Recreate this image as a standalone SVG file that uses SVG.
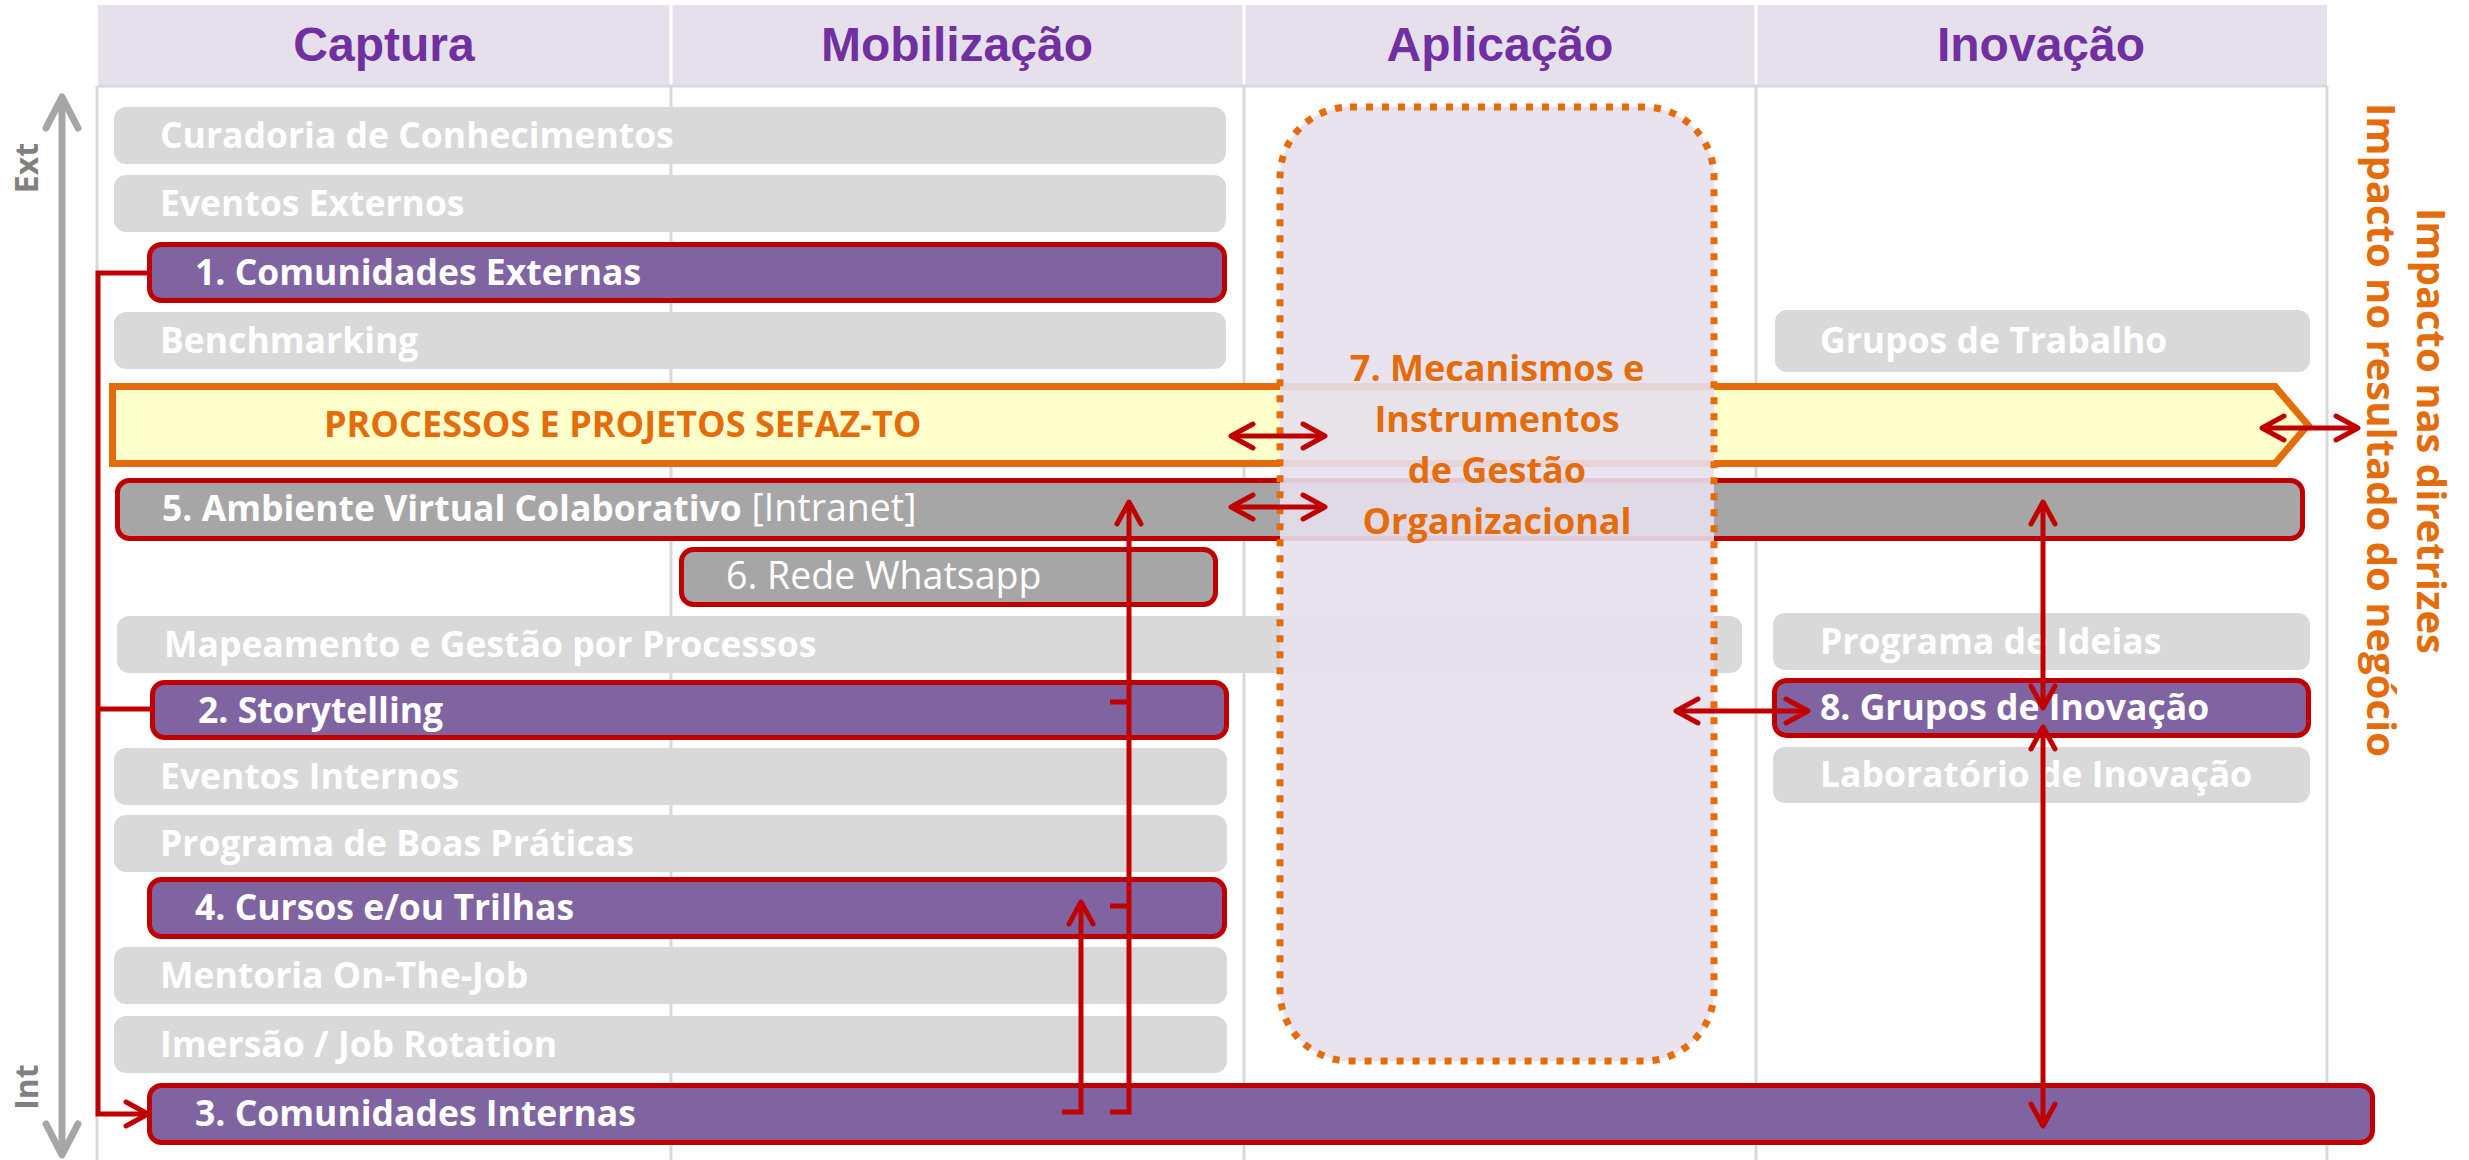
<svg xmlns="http://www.w3.org/2000/svg" width="2469" height="1160" viewBox="0 0 2469 1160">
<defs>
<style>
.hdr{font-family:"Liberation Sans",Arial,sans-serif;font-weight:bold;font-size:48px;fill:#7030A0;text-anchor:middle}
.lt{fill:#D9D9D9}
.pu{fill:#8064A2;stroke:#C00000;stroke-width:5}
.gr{fill:#A6A6A6;stroke:#C00000;stroke-width:5}
.tx{font-family:"Open Sans","Liberation Sans",sans-serif;font-weight:bold;font-size:35.5px;fill:#FFFFFF}
.txr{font-weight:normal;font-size:37.5px}
.or{font-family:"Open Sans","Liberation Sans",sans-serif;font-weight:bold;font-size:36px;fill:#E46C0A}
.vt{font-family:"Open Sans","Liberation Sans",sans-serif;font-weight:bold;font-size:40px;fill:#E46C0A;text-anchor:middle}
.ax{font-family:"Open Sans","Liberation Sans",sans-serif;font-weight:bold;font-size:32px;fill:#808080;text-anchor:middle}
.col{stroke:#D9D9D9;stroke-width:3}
.cn{fill:none;stroke:#C00000;stroke-width:5}
.ca{marker-end:url(#ah)}
.cb{marker-start:url(#ah);marker-end:url(#ah)}
</style>
<marker id="ah" markerUnits="userSpaceOnUse" markerWidth="40" markerHeight="40" viewBox="-30 -20 40 40" refX="0" refY="0" orient="auto-start-reverse" overflow="visible">
<path d="M-22,-12 L0,0 L-22,12" fill="none" stroke="#C00000" stroke-width="5" stroke-linecap="round" stroke-linejoin="round"/>
</marker>
<marker id="gh" markerUnits="userSpaceOnUse" markerWidth="50" markerHeight="50" viewBox="-40 -25 50 50" refX="0" refY="0" orient="auto-start-reverse" overflow="visible">
<path d="M-31,-16 L0,0 L-31,16" fill="none" stroke="#A6A6A6" stroke-width="7" stroke-linecap="round" stroke-linejoin="round"/>
</marker>
</defs>
<rect x="0" y="0" width="2469" height="1160" fill="#FFFFFF"/>

<g id="header">
<rect x="98" y="5" width="2229" height="81" fill="#E6E0EC"/>
<line x1="671" y1="5" x2="671" y2="86" stroke="#FFFFFF" stroke-width="3"/>
<line x1="1244" y1="5" x2="1244" y2="86" stroke="#FFFFFF" stroke-width="3"/>
<line x1="1756" y1="5" x2="1756" y2="86" stroke="#FFFFFF" stroke-width="3"/>
<line x1="98" y1="86" x2="2327" y2="86" stroke="#D9D9D9" stroke-width="3"/>
<text class="hdr" x="384" y="61">Captura</text>
<text class="hdr" x="957" y="61">Mobilização</text>
<text class="hdr" x="1500" y="61">Aplicação</text>
<text class="hdr" x="2041" y="61">Inovação</text>
</g>

<g id="grid">
<line class="col" x1="97" y1="86" x2="97" y2="1160"/>
<line class="col" x1="671" y1="86" x2="671" y2="1160"/>
<line class="col" x1="1244" y1="86" x2="1244" y2="1160"/>
<line class="col" x1="1756" y1="86" x2="1756" y2="1160"/>
<line class="col" x1="2327" y1="86" x2="2327" y2="1160"/>
</g>

<g id="curadoria"><rect class="lt" x="114" y="107" width="1112" height="57" rx="12"/><text class="tx" x="160" y="148">Curadoria de Conhecimentos</text></g>
<g id="eventos-externos"><rect class="lt" x="114" y="175" width="1112" height="57" rx="12"/><text class="tx" x="160" y="216">Eventos Externos</text></g>
<g id="comunidades-externas"><rect class="pu" x="149.5" y="244.5" width="1075" height="56" rx="12"/><text class="tx" x="195" y="285">1. Comunidades Externas</text></g>
<g id="benchmarking"><rect class="lt" x="114" y="312" width="1112" height="57" rx="12"/><text class="tx" x="160" y="353">Benchmarking</text></g>
<g id="grupos-trabalho"><rect class="lt" x="1775" y="310" width="535" height="62" rx="12"/><text class="tx" x="1820" y="353">Grupos de Trabalho</text></g>

<g id="processos">
<path d="M112.5,386.5 H2275 L2308,425 L2275,463.5 H112.5 Z" fill="#FFFFCC" stroke="#E46C0A" stroke-width="7" stroke-linejoin="miter"/>
<text class="or" x="324" y="437">PROCESSOS E PROJETOS SEFAZ-TO</text>
</g>

<g id="ambiente-virtual"><rect class="gr" x="117.5" y="480.5" width="2185" height="58" rx="12"/><text class="tx" x="162" y="521">5. Ambiente Virtual Colaborativo<tspan class="txr"> [Intranet]</tspan></text></g>
<g id="rede-whatsapp"><rect class="gr" x="681.5" y="549.5" width="534" height="55" rx="12"/><text class="tx txr" x="726" y="589">6. Rede Whatsapp</text></g>
<g id="mapeamento"><rect class="lt" x="117" y="616" width="1625" height="57" rx="12"/><text class="tx" x="164" y="657">Mapeamento e Gestão por Processos</text></g>
<g id="programa-ideias"><rect class="lt" x="1773" y="613" width="537" height="57" rx="12"/><text class="tx" x="1820" y="654">Programa de Ideias</text></g>
<g id="storytelling"><rect class="pu" x="152.5" y="682.5" width="1074" height="55" rx="12"/><text class="tx" x="198" y="723">2. Storytelling</text></g>
<g id="grupos-inovacao"><rect class="pu" x="1774.5" y="680.5" width="534" height="55" rx="12"/><text class="tx" x="1820" y="720">8. Grupos de Inovação</text></g>
<g id="laboratorio"><rect class="lt" x="1773" y="747" width="537" height="56" rx="12"/><text class="tx" x="1820" y="787">Laboratório de Inovação</text></g>
<g id="eventos-internos"><rect class="lt" x="114" y="748" width="1113" height="57" rx="12"/><text class="tx" x="160" y="789">Eventos Internos</text></g>
<g id="boas-praticas"><rect class="lt" x="114" y="815" width="1113" height="57" rx="12"/><text class="tx" x="160" y="856">Programa de Boas Práticas</text></g>
<g id="cursos"><rect class="pu" x="149.5" y="879.5" width="1075" height="57" rx="12"/><text class="tx" x="195" y="920">4. Cursos e/ou Trilhas</text></g>
<g id="mentoria"><rect class="lt" x="114" y="947" width="1113" height="57" rx="12"/><text class="tx" x="160" y="988">Mentoria On-The-Job</text></g>
<g id="imersao"><rect class="lt" x="114" y="1016" width="1113" height="57" rx="12"/><text class="tx" x="160" y="1057">Imersão / Job Rotation</text></g>
<g id="comunidades-internas"><rect class="pu" x="149.5" y="1085.5" width="2223" height="57" rx="12"/><text class="tx" x="195" y="1126">3. Comunidades Internas</text></g>

<g id="mecanismos">
<rect x="1280" y="107" width="434" height="954" rx="70" fill="#E6E0EC" fill-opacity="0.9" stroke="#E46C0A" stroke-width="7" stroke-dasharray="7 9"/>
<text class="or" text-anchor="middle" x="1497" y="381">7. Mecanismos e</text>
<text class="or" text-anchor="middle" x="1497" y="432">Instrumentos</text>
<text class="or" text-anchor="middle" x="1497" y="483">de Gestão</text>
<text class="or" text-anchor="middle" x="1497" y="534">Organizacional</text>
</g>

<g id="connectors">
<path class="cn ca" d="M148,273 H98 V1114 H148"/>
<path class="cn" d="M98,709 H150"/>
<path class="cn ca" d="M1110,1112 H1129 V502"/>
<path class="cn" d="M1110,702 H1129 M1110,906 H1129"/>
<path class="cn ca" d="M1062,1112 H1081 V902"/>
<path class="cn cb" d="M1231,436 H1325"/>
<path class="cn cb" d="M1231,507 H1325"/>
<path class="cn cb" d="M2262,428 H2358"/>
<path class="cn cb" d="M2043,502 V708"/>
<path class="cn cb" d="M2043,727 V1126"/>
<path class="cn cb" d="M1676,711 H1808"/>
</g>

<g id="impacto">
<text class="vt" transform="translate(2417,431) rotate(90)">Impacto nas diretrizes</text>
<text class="vt" transform="translate(2367,430) rotate(90)">Impacto no resultado do negócio</text>
</g>

<g id="eixo">
<path d="M62,97 V1155" fill="none" stroke="#A6A6A6" stroke-width="7" marker-start="url(#gh)" marker-end="url(#gh)"/>
<text class="ax" transform="translate(38,168) rotate(-90)">Ext</text>
<text class="ax" transform="translate(38,1087) rotate(-90)">Int</text>
</g>
</svg>
